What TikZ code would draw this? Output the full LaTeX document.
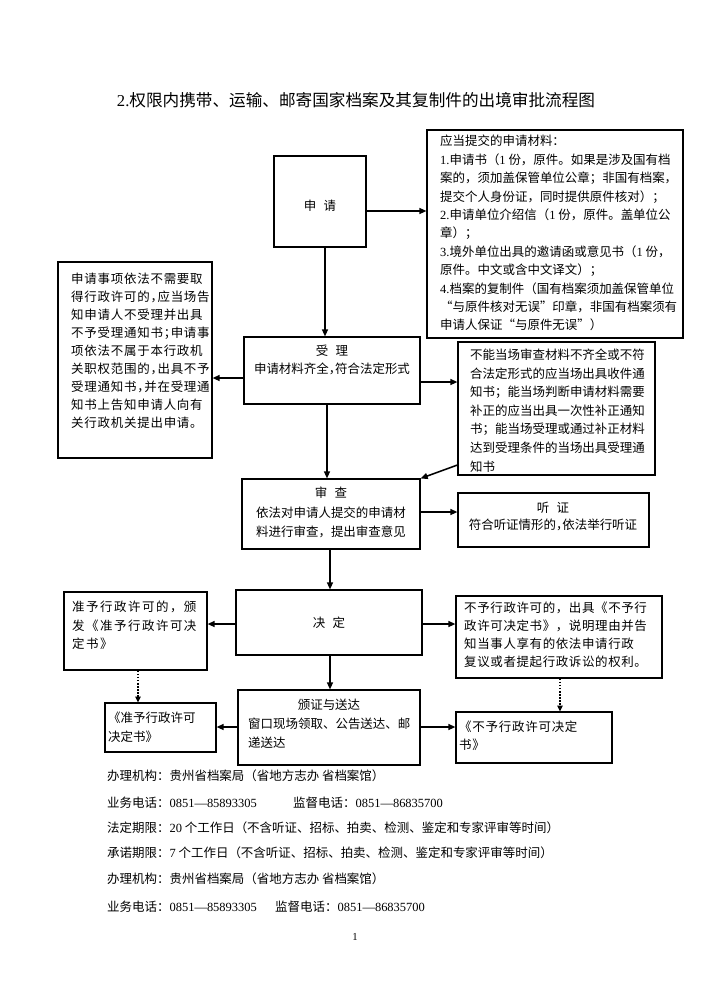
\documentclass[tikz,border=0pt]{standalone}
\usepackage{fontspec}
\setmainfont{Noto Sans CJK SC}
\newfontfamily\cjkh{Noto Sans CJK SC}[RawFeature=+halt]
\newfontfamily\lat{Liberation Serif}
\usetikzlibrary{arrows.meta,fit,calc}
\newcommand\gapc{\hspace{0.6em}}
\begin{document}
\begin{tikzpicture}[x=0.8419pt,y=-0.8419pt,
  box/.style={draw,line width=0.9pt,inner sep=0pt,fill=white},
  arr/.style={line width=1.3pt,-{Triangle[length=6pt,width=5pt]}},
  darr/.style={line width=1.2pt,dash pattern=on 1.4pt off 1.2pt,-{Triangle[length=5pt,width=4.5pt]}},
  tl/.style={inner sep=0pt,anchor=north west,align=left,font=\fontsize{10.5pt}{15.5pt}\selectfont},
  tc/.style={inner sep=0pt,anchor=north,align=center,font=\fontsize{10.5pt}{15.5pt}\selectfont},
  ln/.style={inner sep=0pt,anchor=west,font=\fontsize{10.5pt}{12pt}\selectfont},
]
\fill[white] (0,0) rectangle (707,1000);
\useasboundingbox (0,0) rectangle (707,1000);

% title
\node[inner sep=0pt,font=\fontsize{14pt}{16pt}\selectfont] (title) at (356,100) {{\lat 2.}权限内携带、运输、邮寄国家档案及其复制件的出境审批流程图};

% boxes
\node[box,fit={(274,156) (366,247)}] (sq) {};
\node[box,fit={(427,130) (683,338)}] (mat) {};
\node[box,fit={(58,262) (212,458)}] (lft) {};
\node[box,fit={(244,337) (420,404)}] (sl) {};
\node[box,fit={(458,342) (655,475)}] (nn) {};
\node[box,fit={(242,479) (420,549)}] (sc) {};
\node[box,fit={(458,493) (649,547)}] (tz) {};
\node[box,fit={(236,590) (422,655)}] (jd) {};
\node[box,fit={(64,592) (207,670)}] (zy) {};
\node[box,fit={(456,596) (662,678)}] (by) {};
\node[box,fit={(238,690) (420,765)}] (fz) {};
\node[box,fit={(105,703) (216,752)}] (zys) {};
\node[box,fit={(456,712) (612,763)}] (bys) {};

% levels
\coordinate (ya) at (0,211);
\coordinate (yb) at (0,378);
\coordinate (yc) at (0,382);
\coordinate (yd) at (0,465);
\coordinate (ye) at (0,512);
\coordinate (yf) at (0,624);
\coordinate (yg) at (0,727);
\coordinate (xa) at (325,0);
\coordinate (xb) at (327,0);
\coordinate (xc) at (330,0);
\coordinate (xd) at (138,0);
\coordinate (xe) at (560,0);

% connectors
\draw[arr] (sq.east |- ya) -- (mat.west |- ya);
\draw[arr] (sq.south -| xa) -- (sl.north -| xa);
\draw[arr] (sl.west |- yb) -- (lft.east |- yb);
\draw[arr] (sl.east |- yc) -- (nn.west |- yc);
\draw[arr] (sl.south -| xb) -- (sc.north -| xb);
\draw[arr] (nn.west |- yd) -- (sc.north east);
\draw[arr] (sc.east |- ye) -- (tz.west |- ye);
\draw[arr] (sc.south -| xc) -- (jd.north -| xc);
\draw[arr] (jd.west |- yf) -- (zy.east |- yf);
\draw[arr] (jd.east |- yf) -- (by.west |- yf);
\draw[arr] (jd.south -| xc) -- (fz.north -| xc);
\draw[darr] (zy.south -| xd) -- (zys.north -| xd);
\draw[darr] (by.south -| xe) -- (bys.north -| xe);
\draw[arr] (fz.west |- yg) -- (zys.east |- yg);
\draw[arr] (fz.east |- yg) -- (bys.west |- yg);

% texts
\node[ln,anchor=center] (sqt) at (320,206) {申\gapc 请};
\node[tl] (matt) at (440,135) {应当提交的申请材料：\\
{\lat 1.}申请书（{\lat 1} 份，原件。如果是涉及国有档\\
案的，须加盖保管单位公章；非国有档案，\\
提交个人身份证，同时提供原件核对）；\\
{\lat 2.}申请单位介绍信（{\lat 1} 份，原件。盖单位公\\
章）；\\
{\lat 3.}境外单位出具的邀请函或意见书（{\lat 1} 份，\\
原件。中文或含中文译文）；\\
{\lat 4.}档案的复制件（国有档案须加盖保管单位\\
“与原件核对无误”印章，非国有档案须有\\
申请人保证“与原件无误”）};
\node[tl,font=\fontsize{10.5pt}{15.1pt}\cjkh\addfontfeature{LetterSpace=6}] (lftt) at (71,273) {申请事项依法不需要取\\
得行政许可的，应当场告\\
知申请人不受理并出具\\
不予受理通知书；申请事\\
项依法不属于本行政机\\
关职权范围的，出具不予\\
受理通知书，并在受理通\\
知书上告知申请人向有\\
关行政机关提出申请。};
\node[tc,font=\fontsize{10.5pt}{15.2pt}\selectfont] (slt) at (332,345) {受\gapc 理\\{\cjkh 申请材料齐全，符合法定形式}};
\node[tl,font=\fontsize{10.5pt}{15.6pt}\selectfont] (nnt) at (470,349) {不能当场审查材料不齐全或不符\\
合法定形式的应当场出具收件通\\
知书；能当场判断申请材料需要\\
补正的应当出具一次性补正通知\\
书；能当场受理或通过补正材料\\
达到受理条件的当场出具受理通\\
知书};
\node[tc,font=\fontsize{10.5pt}{16.4pt}\selectfont] (sct) at (331,487) {审\gapc 查\\依法对申请人提交的申请材\\料进行审查，提出审查意见};
\node[tc,font=\fontsize{10.5pt}{14.3pt}\selectfont] (tzt) at (553,502) {听\gapc 证\\{\cjkh 符合听证情形的，依法举行听证}};
\node[ln,anchor=center] (jdt) at (329,623) {决\gapc 定};
\node[tl,font=\fontsize{10.5pt}{15.6pt}\selectfont\addfontfeature{LetterSpace=12}] (zyt) at (72,601) {准予行政许可的，颁\\
发《准予行政许可决\\
定书》};
\node[tl,font=\fontsize{10.5pt}{15.1pt}\selectfont\addfontfeature{LetterSpace=5}] (byt) at (464,602) {不予行政许可的，出具《不予行\\
政许可决定书》，说明理由并告\\
知当事人享有的依法申请行政\\
复议或者提起行政诉讼的权利。};
\node[tc] (fzt) at (329,699) {颁证与送达};
\node[tl,font=\fontsize{10.5pt}{16pt}\selectfont] (fzb) at (248,718) {窗口现场领取、公告送达、邮\\递送达};
\node[tl,font=\fontsize{10.5pt}{16pt}\selectfont] (zyst) at (108,712) {《准予行政许可\\决定书》};
\node[tl,font=\fontsize{10.5pt}{15.2pt}\selectfont\addfontfeature{LetterSpace=6}] (byst) at (459,721) {《不予行政许可决定\\书》};

% footer
\node[ln] (f1) at (107,776) {办理机构：贵州省档案局（省地方志办 省档案馆）};
\node[ln] (f2) at (107,803) {业务电话：{\lat 0851—85893305}};
\node[ln] (f2b) at (293,803) {监督电话：{\lat 0851—86835700}};
\node[ln] (f3) at (107,828) {法定期限：{\lat 20} 个工作日（不含听证、招标、拍卖、检测、鉴定和专家评审等时间）};
\node[ln] (f4) at (107,853) {承诺期限：{\lat 7} 个工作日（不含听证、招标、拍卖、检测、鉴定和专家评审等时间）};
\node[ln] (f5) at (107,879) {办理机构：贵州省档案局（省地方志办 省档案馆）};
\node[ln] (f6) at (107,907) {业务电话：{\lat 0851—85893305}};
\node[ln] (f6b) at (275,907) {监督电话：{\lat 0851—86835700}};
\node[inner sep=0pt,font=\fontsize{9pt}{10pt}\lat] (pg) at (355,937) {1};
\end{tikzpicture}
\end{document}
